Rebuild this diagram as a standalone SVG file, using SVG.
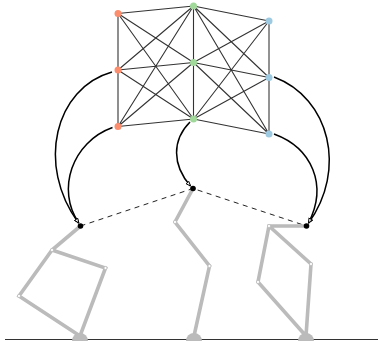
<svg xmlns="http://www.w3.org/2000/svg" width="378" height="341" viewBox="0 0 378 341">
<style>
.e{stroke:#333;stroke-width:1.1;fill:none}
.c{stroke:#000;stroke-width:1.5;fill:none;marker-end:url(#a)}
.l{stroke:#bbb;stroke-width:3.6;fill:none;stroke-linejoin:miter}
.j{fill:#fff;stroke:#bbb;stroke-width:.8}
.b{fill:#bbb}
.d{fill:#000}
.n{stroke:none}
.o{fill:#fc8d6d}.g{fill:#a1d99b}.s{fill:#9ecae1}
</style>
<defs><marker id="a" markerUnits="userSpaceOnUse" markerWidth="7" markerHeight="6" refX="5" refY="3" orient="auto"><path d="M.5 1.2L5 3L.5 4.8Z" fill="#fff" stroke="#000" stroke-width=".9"/></marker></defs>
<g id="connectors">
<path class="e" d="M118 13.5L193.5 6M118 13.5L193.5 62.5M118 13.5L193.5 119M118 70L193.5 6M118 70L193.5 62.5M118 70L193.5 119M118 126.5L193.5 6M118 126.5L193.5 62.5M118 126.5L193.5 119M193.5 6L269 21M193.5 6L269 77.5M193.5 6L269 134M193.5 62.5L269 21M193.5 62.5L269 77.5M193.5 62.5L269 134M193.5 119L269 21M193.5 119L269 77.5M193.5 119L269 134M118 13.5V126.5M193.5 6V119"/>
<path d="M269 21V134" stroke="#777" stroke-width="1.6" fill="none"/>
<path class="c" d="M112 72C55 88 36 165 78.5 223"/>
<path class="c" d="M112.5 127.5C72 142 56 190 78.8 223"/>
<path class="c" d="M190 122C172 140 172 165 190.5 186"/>
<path class="c" d="M274 77C330 98 347 170 308.5 223"/>
<path class="c" d="M274 134C312 148 328 185 308.5 223"/>
<path d="M80.5 226L193 188.5L306.5 226" stroke="#222" stroke-width="1" stroke-dasharray="5 4.5" fill="none"/>
<path d="M5 339.5H378" stroke="#333" stroke-width="1.1" fill="none"/>
</g>
<g id="leg-left">
<path class="l" d="M80.5 226L52 250L19 296L80 336L105.5 268L52 250"/>
<path class="b" d="M72 341A8 8 0 0 1 88 341Z"/>
<circle class="j" cx="52" cy="250" r="1.6"/><circle class="j" cx="19" cy="296" r="1.6"/><circle class="j" cx="105.5" cy="268" r="1.6"/>
<circle class="d" cx="80.5" cy="226" r="2.8"/>
</g>
<g id="leg-middle">
<path class="l" d="M193 188.5L175 222L209.5 266L194 336"/>
<path class="b" d="M186 341A8 8 0 0 1 202 341Z"/>
<circle class="j" cx="175" cy="222" r="1.6"/><circle class="j" cx="209.5" cy="266" r="1.6"/>
<circle class="d" cx="193" cy="188.5" r="2.8"/>
</g>
<g id="leg-right">
<path class="l" d="M306.5 226H269L258 282L306 336L311 264L269 226"/>
<path class="b" d="M298 341A8 8 0 0 1 314 341Z"/>
<circle class="j" cx="269" cy="226" r="1.6"/><circle class="j" cx="258" cy="282" r="1.6"/><circle class="j" cx="311" cy="264" r="1.6"/>
<circle class="d" cx="306.5" cy="226" r="2.8"/>
</g>
<g id="node-l1"><circle class="n o" cx="118" cy="13.5" r="3.5"/></g>
<g id="node-l2"><circle class="n o" cx="118" cy="70" r="3.5"/></g>
<g id="node-l3"><circle class="n o" cx="118" cy="126.5" r="3.5"/></g>
<g id="node-m1"><circle class="n g" cx="193.5" cy="6" r="3.5"/></g>
<g id="node-m2"><circle class="n g" cx="193.5" cy="62.5" r="3.5"/></g>
<g id="node-m3"><circle class="n g" cx="193.5" cy="119" r="3.5"/></g>
<g id="node-r1"><circle class="n s" cx="269" cy="21" r="3.5"/></g>
<g id="node-r2"><circle class="n s" cx="269" cy="77.5" r="3.5"/></g>
<g id="node-r3"><circle class="n s" cx="269" cy="134" r="3.5"/></g>
</svg>
